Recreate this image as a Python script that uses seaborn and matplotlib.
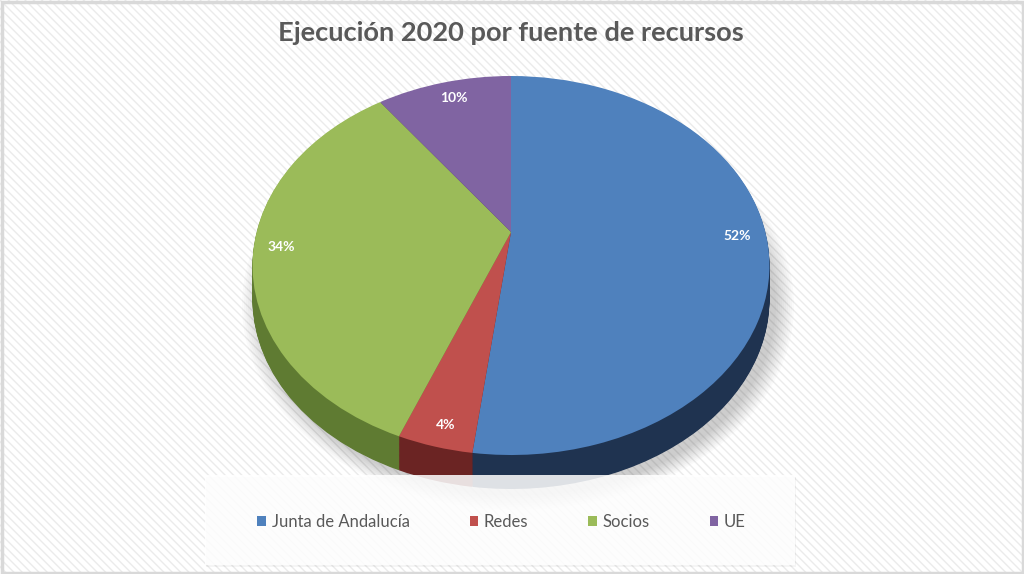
import numpy as np
import matplotlib
matplotlib.use('Agg')
import matplotlib.pyplot as plt
import seaborn as sns
from matplotlib.patches import Rectangle, Ellipse
from matplotlib.transforms import Transform

# ---- data ----
categories = ['Junta de Andalucía', 'Redes', 'Socios', 'UE']
values = [52, 4, 34, 10]
pct_labels = ['52%', '4%', '34%', '10%']
title = 'Ejecución 2020 por fuente de recursos'

# ---- styles ----
top_colors = ['#4F81BD', '#C0504D', '#9BBB59', '#8064A2']
side_colors = ['#1F3350', '#6B2423', '#5F7B32', '#4A3A60']
label_pix = [(737, 236), (446, 425), (281, 247), (454, 98)]

sns.set_theme(style='white')
plt.rcParams['font.family'] = ['Lato', 'DejaVu Sans']
plt.rcParams['hatch.linewidth'] = 1.0

W, H = 1024, 574
fig = plt.figure(figsize=(W / 100, H / 100), dpi=100)

# background with diagonal stripes
bg = fig.add_axes([0, 0, 1, 1], zorder=0)
bg.set_xlim(0, W); bg.set_ylim(H, 0); bg.axis('off')
bg.add_patch(Rectangle((0, 0), W, H, facecolor='white', edgecolor='#ebebeb',
                       hatch='\\\\\\\\', lw=0))
bg.add_patch(Rectangle((1.5, 1.5), W - 3, H - 3, fill=False,
                       edgecolor='#d9d9d9', lw=2.5))

# perspective geometry (pixels)
CX, CY = 511.0, 265.5
SX, SY, TY, PP = 254.4, 189.5, 33.5, 0.1768
DEPTH = 34.0


class Persp(Transform):
    """Tilted-disc perspective projection of the unit pie onto pixel coords."""
    input_dims = output_dims = 2
    is_separable = False
    has_inverse = False

    def __init__(self, dy=0.0):
        super().__init__()
        self.dy = dy

    def transform_non_affine(self, pts):
        pts = np.asarray(pts, dtype=float)
        u, v = pts[:, 0], pts[:, 1]
        den = 1.0 + PP * v
        X = SX * u / den
        Y = (SY * v + TY) / den
        return np.column_stack([CX + X, CY - Y + self.dy])


ax = fig.add_axes([0, 0, 1, 1], zorder=1)
ax.patch.set_alpha(0)

# soft shadow under the pie
for i in range(10):
    ax.add_patch(Ellipse((CX + 7, CY + DEPTH + 6), 2 * (258 + 2.0 * i),
                         2 * (190 + 1.6 * i), facecolor='#000000', alpha=0.018,
                         lw=0, transform=ax.transData))

# side walls: stacked pies shifted down
n_layers = 40
for k in range(n_layers, 0, -1):
    off = DEPTH * k / n_layers
    ws, _ = ax.pie(values, colors=side_colors, startangle=90, counterclock=False,
                   radius=1, frame=False, wedgeprops=dict(linewidth=0))
    tr = Persp(off) + ax.transData
    for w in ws:
        w.set_transform(tr)
        w.set_clip_on(False)

# top face
wedges, _ = ax.pie(values, colors=top_colors, startangle=90, counterclock=False,
                   radius=1, frame=False, wedgeprops=dict(linewidth=0))
tr = Persp(0.0) + ax.transData
for w in wedges:
    w.set_transform(tr)
    w.set_clip_on(False)

ax.set_aspect('auto')
ax.set_xlim(0, W); ax.set_ylim(H, 0)
ax.axis('off')

for lab, (px, py) in zip(pct_labels, label_pix):
    ax.text(px, py, lab, color='white', fontsize=10, fontweight='bold',
            ha='center', va='center')

# overlay: title, legend box, legend
ov = fig.add_axes([0, 0, 1, 1], zorder=2)
ov.set_xlim(0, W); ov.set_ylim(H, 0); ov.axis('off')
ov.patch.set_alpha(0)

ov.text(511, 33, title, fontsize=19.6, fontweight='bold', color='#595959',
        ha='center', va='center')

ov.add_patch(Rectangle((206, 477), 590, 90, facecolor='#000000', alpha=0.04, lw=0))
ov.add_patch(Rectangle((205, 475), 590, 90, facecolor='white', alpha=0.86, lw=0))

leg = ov.legend(handles=wedges, labels=categories, loc='center',
                bbox_to_anchor=(501.5, 522), bbox_transform=ov.transData,
                ncol=4, frameon=False, fontsize=12, handlelength=0.5,
                handleheight=0.5, handletextpad=0.35, columnspacing=3.6,
                borderpad=0)
for t in leg.get_texts():
    t.set_color('#595959')

fig.savefig('out.png', dpi=100)
